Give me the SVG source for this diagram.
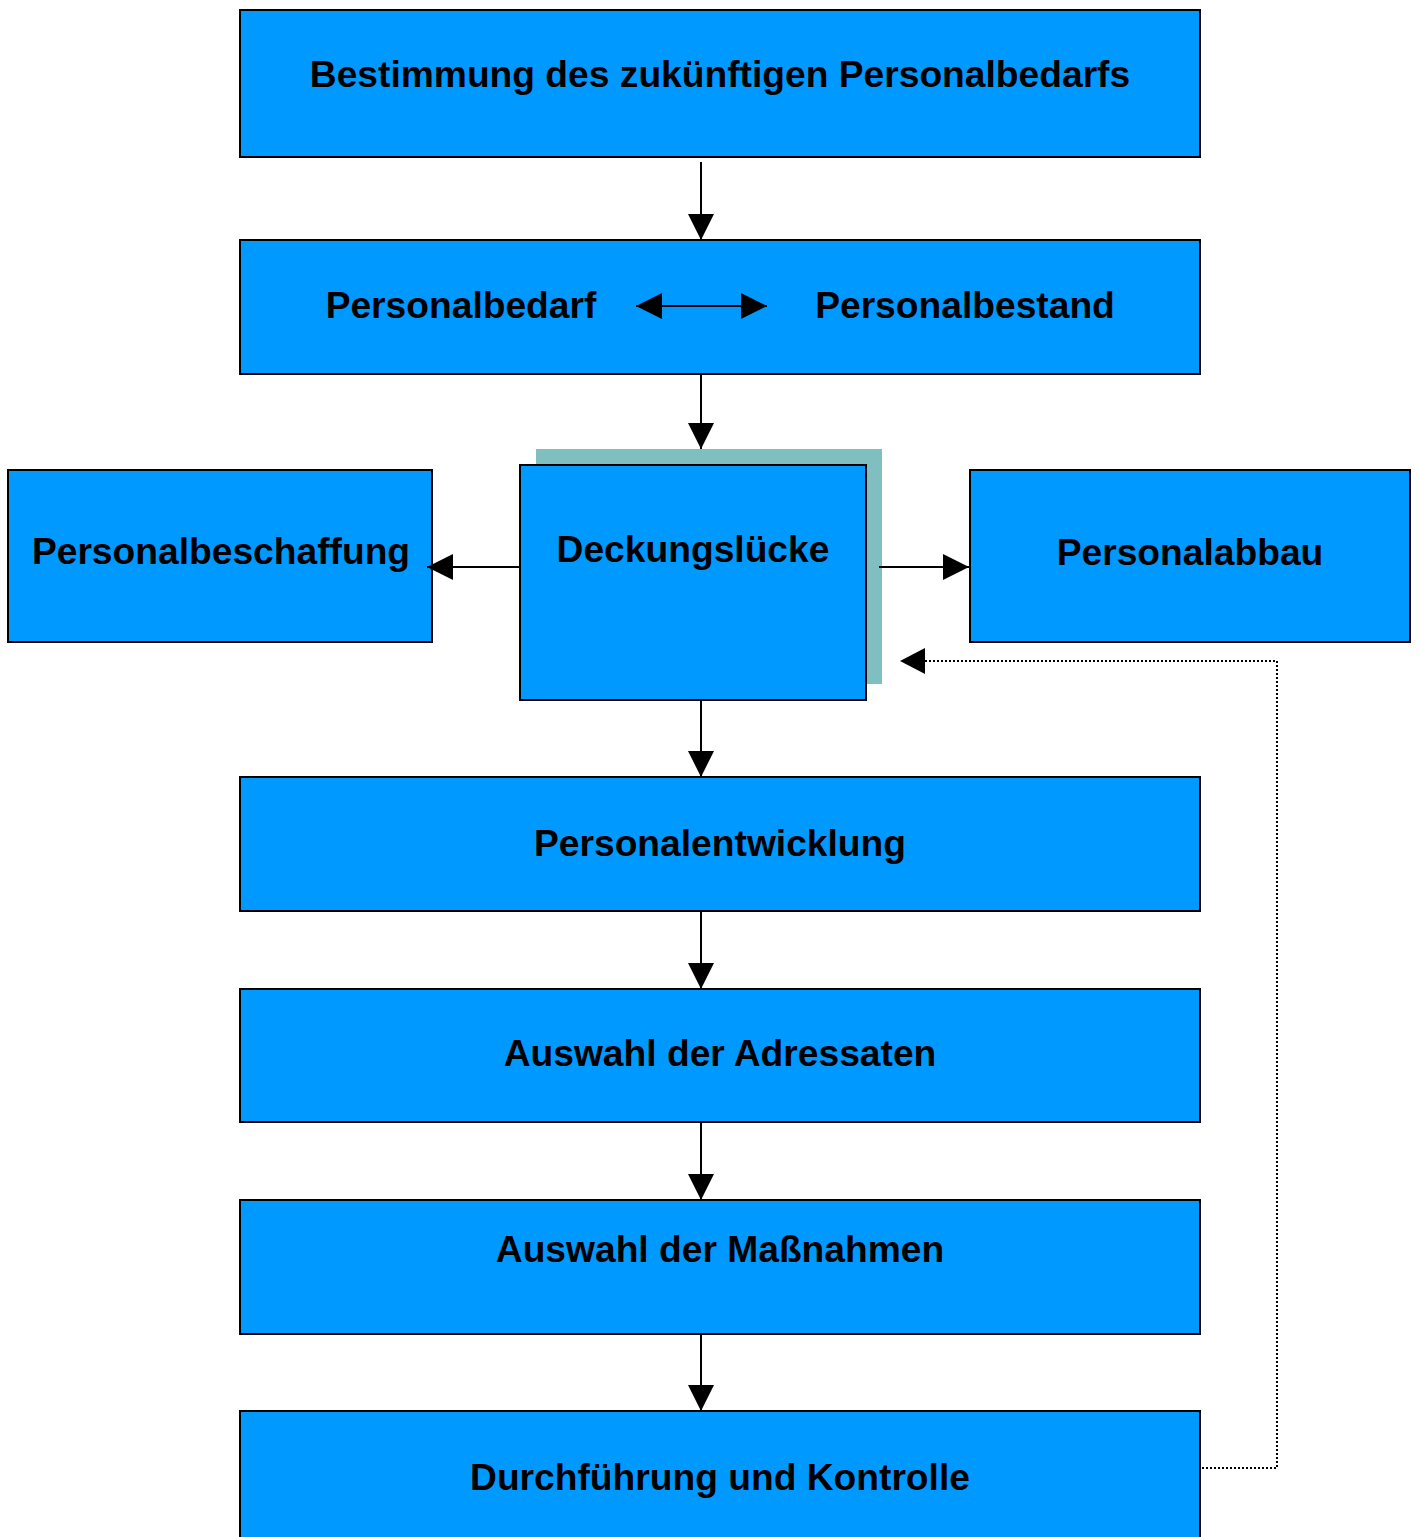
<svg xmlns="http://www.w3.org/2000/svg" width="1419" height="1537" viewBox="0 0 1419 1537">
  <style>
    .box { fill: #0099FF; stroke: #000; stroke-width: 2; }
    .shadow { fill: #80BFBF; }
    .label { font-family: "Liberation Sans", Arial, sans-serif; font-weight: bold; font-size: 37.2px; fill: #000; text-anchor: middle; }
    .flow { stroke: #000; stroke-width: 2; fill: none; }
    .feedback { stroke: #000; stroke-width: 2; fill: none; stroke-dasharray: 2 2; }
  </style>
  <defs>
    <marker id="arrow" markerUnits="userSpaceOnUse" markerWidth="26" markerHeight="26" refX="26" refY="13" orient="auto-start-reverse">
      <path d="M0,0 L26,13 L0,26 z" fill="#000"/>
    </marker>
  </defs>
  <rect width="1419" height="1537" fill="#fff"/>

  <g id="bedarfsbestimmung">
    <rect class="box" x="240" y="10" width="960" height="147"/>
    <text class="label" x="720" y="87">Bestimmung des zukünftigen Personalbedarfs</text>
  </g>

  <g id="abgleich">
    <rect class="box" x="240" y="240" width="960" height="134"/>
    <text class="label" x="461" y="318">Personalbedarf</text>
    <text class="label" x="965" y="318">Personalbestand</text>
  </g>

  <g id="personalbeschaffung">
    <rect class="box" x="8" y="470" width="424" height="172"/>
    <text class="label" x="221" y="564">Personalbeschaffung</text>
  </g>

  <g id="deckungsluecke">
    <rect class="shadow" x="536" y="449" width="346" height="235"/>
    <rect class="box" x="520" y="465" width="346" height="235"/>
    <text class="label" x="693" y="562">Deckungslücke</text>
  </g>

  <g id="personalabbau">
    <rect class="box" x="970" y="470" width="440" height="172"/>
    <text class="label" x="1190" y="565">Personalabbau</text>
  </g>

  <g id="personalentwicklung">
    <rect class="box" x="240" y="777" width="960" height="134"/>
    <text class="label" x="720" y="856">Personalentwicklung</text>
  </g>

  <g id="adressaten">
    <rect class="box" x="240" y="989" width="960" height="133"/>
    <text class="label" x="720" y="1066">Auswahl der Adressaten</text>
  </g>

  <g id="massnahmen">
    <rect class="box" x="240" y="1200" width="960" height="134"/>
    <text class="label" x="720" y="1262">Auswahl der Maßnahmen</text>
  </g>

  <g id="durchfuehrung">
    <rect class="box" x="240" y="1411" width="960" height="140"/>
    <text class="label" x="720" y="1490">Durchführung und Kontrolle</text>
  </g>

  <g id="connectors">
    <line class="flow" x1="701" y1="162" x2="701" y2="240" marker-end="url(#arrow)"/>
    <line class="flow" x1="636" y1="306" x2="767" y2="306" marker-start="url(#arrow)" marker-end="url(#arrow)"/>
    <line class="flow" x1="701" y1="374" x2="701" y2="449" marker-end="url(#arrow)"/>
    <line class="flow" x1="520" y1="567" x2="427" y2="567" marker-end="url(#arrow)"/>
    <line class="flow" x1="879" y1="567" x2="969" y2="567" marker-end="url(#arrow)"/>
    <line class="flow" x1="701" y1="700" x2="701" y2="777" marker-end="url(#arrow)"/>
    <line class="flow" x1="701" y1="911" x2="701" y2="989" marker-end="url(#arrow)"/>
    <line class="flow" x1="701" y1="1122" x2="701" y2="1200" marker-end="url(#arrow)"/>
    <line class="flow" x1="701" y1="1334" x2="701" y2="1411" marker-end="url(#arrow)"/>
    <polyline class="feedback" points="1202,1468 1277,1468 1277,661 924,661"/>
    <path d="M900,661 L925,648 L925,674 z" fill="#000"/>
  </g>
</svg>
